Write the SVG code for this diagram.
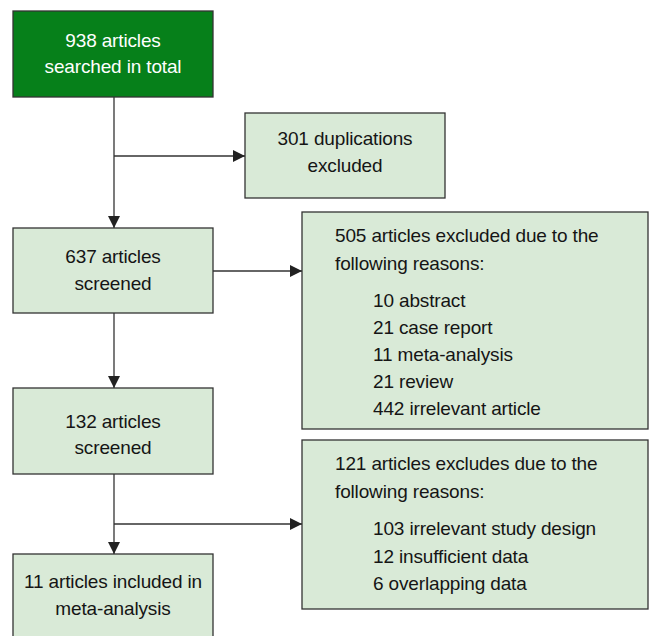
<svg xmlns="http://www.w3.org/2000/svg" width="650" height="636" viewBox="0 0 650 636">
<defs>
<style>
.box{fill:#d9ead7;stroke:#333;stroke-width:1.3}
.dark{fill:#06801a;stroke:#333;stroke-width:1.3}
text{font-family:"Liberation Sans",Arial,sans-serif;font-size:19px;letter-spacing:-0.15px;fill:#151515}
.c{text-anchor:middle}
.w{fill:#fff}
.ln{stroke:#333;stroke-width:1.3;fill:none}
</style>
<marker id="ah" viewBox="0 0 12 12" refX="12" refY="6" markerWidth="12" markerHeight="12" markerUnits="userSpaceOnUse" orient="auto">
<path d="M0,0 L12,6 L0,12 Z" fill="#222"/>
</marker>
</defs>
<g id="n1"><rect class="dark" x="13" y="11" width="200" height="86"/>
<text class="c w" x="113" y="47">938 articles</text><text class="c w" x="113" y="73">searched in total</text></g>
<g id="n2"><rect class="box" x="245" y="113" width="200" height="85"/>
<text class="c" x="345" y="145">301 duplications</text><text class="c" x="345" y="172">excluded</text></g>
<g id="n3"><rect class="box" x="13" y="228" width="200" height="85"/>
<text class="c" x="113" y="263">637 articles</text><text class="c" x="113" y="290">screened</text></g>
<g id="n4"><rect class="box" x="302" y="212" width="346" height="217"/>
<text x="335" y="242">505 articles excluded due to the</text><text x="335" y="270">following reasons:</text>
<text x="373" y="307">10 abstract</text><text x="373" y="334">21 case report</text><text x="373" y="361">11 meta-analysis</text><text x="373" y="388">21 review</text><text x="373" y="415">442 irrelevant article</text></g>
<g id="n5"><rect class="box" x="13" y="388" width="200" height="86"/>
<text class="c" x="113" y="428">132 articles</text><text class="c" x="113" y="454">screened</text></g>
<g id="n6"><rect class="box" x="302" y="440" width="346" height="169"/>
<text x="335" y="470">121 articles excludes due to the</text><text x="335" y="498">following reasons:</text>
<text x="373" y="535">103 irrelevant study design</text><text x="373" y="563">12 insufficient data</text><text x="373" y="590">6 overlapping data</text></g>
<g id="n7"><rect class="box" x="13" y="554" width="200" height="90"/>
<text class="c" x="113" y="588">11 articles included in</text><text class="c" x="113" y="615">meta-analysis</text></g>
<g id="connectors">
<line class="ln" x1="114" y1="97" x2="114" y2="228" marker-end="url(#ah)"/>
<line class="ln" x1="114" y1="156" x2="245" y2="156" marker-end="url(#ah)"/>
<line class="ln" x1="213" y1="271" x2="302" y2="271" marker-end="url(#ah)"/>
<line class="ln" x1="114" y1="313" x2="114" y2="388" marker-end="url(#ah)"/>
<line class="ln" x1="114" y1="474" x2="114" y2="554" marker-end="url(#ah)"/>
<line class="ln" x1="114" y1="524" x2="302" y2="524" marker-end="url(#ah)"/>
</g>
</svg>
